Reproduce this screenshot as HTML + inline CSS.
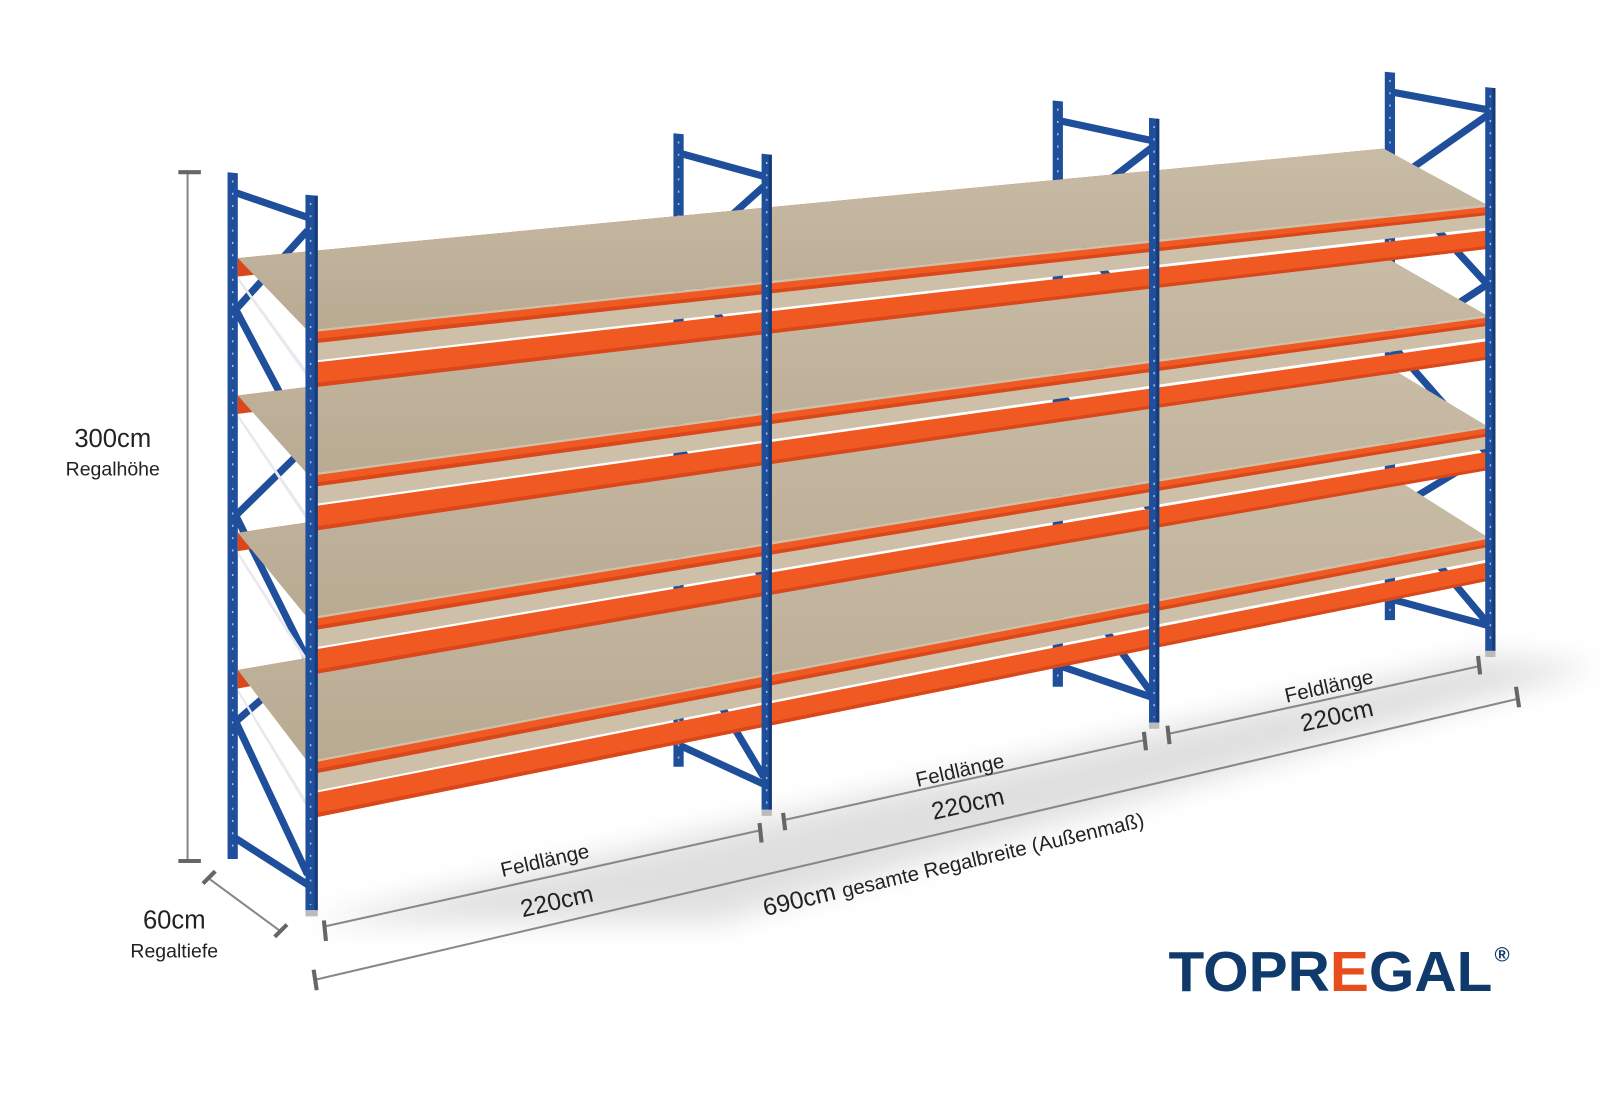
<!DOCTYPE html>
<html><head><meta charset="utf-8"><style>
html,body{margin:0;padding:0;background:#fff;width:1600px;height:1100px;overflow:hidden}
svg{display:block}
text{font-family:"Liberation Sans",sans-serif}
</style></head><body>
<svg id="s" width="1600" height="1100" viewBox="0 0 1600 1100" xmlns="http://www.w3.org/2000/svg">
<defs>
<filter id="blur" x="-20%" y="-50%" width="140%" height="200%"><feGaussianBlur stdDeviation="14"/></filter>
<linearGradient id="bd" x1="0" y1="0" x2="0" y2="1"><stop offset="0" stop-color="#c9bca6"/><stop offset="1" stop-color="#b9aa92"/></linearGradient>
</defs>
<g transform="scale(1.025)">
<polygon points="300,900 1451,640 1560,650 700,900" fill="#d8d8d8" filter="url(#blur)" opacity="0.8"/>
<g id="back"></g>
<g id="boards"></g>
<g id="front"></g>
<g stroke="#888" stroke-width="2" fill="none">
<line x1="183" y1="168" x2="183" y2="840"/>
<line x1="174" y1="168" x2="196" y2="168" stroke-width="4" stroke="#666"/>
<line x1="174" y1="840" x2="196" y2="840" stroke-width="4" stroke="#666"/>
<line x1="205" y1="858" x2="273" y2="908"/>
<line x1="198" y1="862" x2="210" y2="850" stroke-width="4" stroke="#666"/>
<line x1="268" y1="914" x2="280" y2="902" stroke-width="4" stroke="#666"/>
<line x1="316" y1="904" x2="742" y2="810"/>
<line x1="316" y1="898" x2="318" y2="918" stroke-width="4" stroke="#666"/>
<line x1="741" y1="803" x2="743" y2="822" stroke-width="4" stroke="#666"/>
<line x1="765" y1="800" x2="1117" y2="722"/>
<line x1="764" y1="793" x2="766" y2="810" stroke-width="4" stroke="#666"/>
<line x1="1116" y1="714" x2="1118" y2="732" stroke-width="4" stroke="#666"/>
<line x1="1140" y1="716" x2="1443" y2="650"/>
<line x1="1139" y1="708" x2="1141" y2="726" stroke-width="4" stroke="#666"/>
<line x1="1442" y1="640" x2="1444" y2="658" stroke-width="4" stroke="#666"/>
<line x1="307" y1="956" x2="1480" y2="682"/>
<line x1="306" y1="946" x2="309" y2="966" stroke-width="4" stroke="#666"/>
<line x1="1479" y1="670" x2="1482" y2="690" stroke-width="4" stroke="#666"/>
</g>
<g fill="#222">
<text x="110" y="436" font-size="25" text-anchor="middle">300cm</text>
<text x="110" y="464" font-size="19" text-anchor="middle">Regalhöhe</text>
<text x="170" y="906" font-size="25" text-anchor="middle">60cm</text>
<text x="170" y="934" font-size="19" text-anchor="middle">Regaltiefe</text>
<g transform="translate(533,846) rotate(-12.7)"><text font-size="20" text-anchor="middle">Feldlänge</text></g>
<g transform="translate(545,887) rotate(-12.7)"><text font-size="24" text-anchor="middle">220cm</text></g>
<g transform="translate(938,758) rotate(-12.7)"><text font-size="20" text-anchor="middle">Feldlänge</text></g>
<g transform="translate(946,792) rotate(-12.7)"><text font-size="24" text-anchor="middle">220cm</text></g>
<g transform="translate(1298,676) rotate(-12.7)"><text font-size="20" text-anchor="middle">Feldlänge</text></g>
<g transform="translate(1306,706) rotate(-12.7)"><text font-size="24" text-anchor="middle">220cm</text></g>
<g transform="translate(932,850) rotate(-13.3)"><text font-size="24" text-anchor="middle">690cm <tspan font-size="20">gesamte Regalbreite (Außenmaß)</tspan></text></g>
</g>
<text x="1140" y="967" font-size="55" font-weight="bold" fill="#0f3a6b" textLength="316" lengthAdjust="spacingAndGlyphs">TOPR<tspan fill="#e84e1b">E</tspan>GAL</text>
<text x="1458" y="938" font-size="20" font-weight="bold" fill="#0f3a6b">®</text>
</g>
</svg>
<script>
(function(){
var NS="http://www.w3.org/2000/svg";
function el(p,t,a){var e=document.createElementNS(NS,t);for(var k in a)e.setAttribute(k,a[k]);document.getElementById(p).appendChild(e);return e;}
function poly(p,pts,fill,extra){var a={points:pts.map(function(q){return q[0].toFixed(1)+","+q[1].toFixed(1)}).join(" "),fill:fill};for(var k in extra)a[k]=extra[k];return el(p,"polygon",a);}
var BLUE="#1f4e9a",BLUE2="#163b78",OR="#f05a22",OR2="#d9471a";
var fx=[300,745,1123,1451],ft=[190,150,115,85],fb=[888,790,705,635];
var bx=[222,657,1027,1351],bt=[168,130,98,70],bb=[838,748,670,605];
var yL=[322,462,602,742],yR=[200,308,416,524];
function fy(i,x){return yL[i]+(yR[i]-yL[i])*(x-305)/(1450-305);}
function by(i,x){var off=70+6*i+(x-230)/(1350-230)*(-15-3*i);return yL[i]-off+(yR[i]-yL[i])*(x-230)/(1350-230);}
for(var j=0;j<4;j++){
 poly("back",[[bx[j],bt[j]],[bx[j]+10,bt[j]+1],[bx[j]+10,bb[j]],[bx[j],bb[j]]],BLUE);
 el("back","line",{x1:bx[j]+5,y1:bt[j]+8,x2:bx[j]+5,y2:bb[j]-5,stroke:"#a9bbe0","stroke-width":1.5,"stroke-dasharray":"2 10"});
}
for(var j=0;j<4;j++){
 var s={stroke:BLUE,"stroke-width":7,"stroke-linecap":"butt"};
 el("back","line",Object.assign({x1:bx[j]+8,y1:bt[j]+20,x2:fx[j],y2:ft[j]+22},s));
 var n=6;
 for(var k=0;k<n;k++){
  var t0=0.05+k*0.9/n,t1=0.05+(k+1)*0.9/n;
  var yb0=bt[j]+(bb[j]-bt[j])*t0,yb1=bt[j]+(bb[j]-bt[j])*t1;
  var yf0=ft[j]+(fb[j]-ft[j])*t0,yf1=ft[j]+(fb[j]-ft[j])*t1;
  if(k%2==0) el("back","line",Object.assign({x1:fx[j],y1:yf0,x2:bx[j]+8,y2:yb1},s));
  else el("back","line",Object.assign({x1:bx[j]+8,y1:yb0,x2:fx[j],y2:yf1},s));
 }
 el("back","line",Object.assign({x1:bx[j]+8,y1:bb[j]-20,x2:fx[j],y2:fb[j]-25},s));
}
for(var i=0;i<4;i++){
 var xl=300,xr=1451;
 poly("boards",[[232,by(i,232)],[1350,by(i,1350)],[1350,by(i,1350)+12],[232,by(i,232)+18]],OR2);
 poly("boards",[[xl,fy(i,xl)],[xr,fy(i,xr)],[1350,by(i,1350)],[232,by(i,232)]],"url(#bd)");
 poly("boards",[[xl,fy(i,xl)],[xr,fy(i,xr)],[xr,fy(i,xr)+22],[xl,fy(i,xl)+30]],"#cdbfa8");
 poly("boards",[[232,by(i,232)+18],[300,fy(i,300)+40],[300,fy(i,300)+46],[232,by(i,232)+22]],"#e8e8ee");
}
for(var i=0;i<4;i++){
 var xl=303,xr=1451;
 var a=fy(i,xl),b=fy(i,xr);
 poly("front",[[xl,a+2],[xr,b+2],[xr,b+10],[xl,a+13]],OR);
 poly("front",[[xl,a+9],[xr,b+7],[xr,b+10],[xl,a+13]],OR2);
 poly("front",[[xl,a+32],[xr,b+25],[xr,b+43],[xl,a+56]],OR);
 poly("front",[[xl,a+52],[xr,b+40],[xr,b+43],[xl,a+56]],OR2);
}
for(var j=0;j<4;j++){
 var w=j==0?12:10;
 poly("front",[[fx[j]-2,ft[j]],[fx[j]+w-2,ft[j]+1],[fx[j]+w-2,fb[j]],[fx[j]-2,fb[j]]],BLUE);
 poly("front",[[fx[j]+w-5,ft[j]+1],[fx[j]+w-2,ft[j]+1],[fx[j]+w-2,fb[j]],[fx[j]+w-5,fb[j]]],BLUE2);
 el("front","line",{x1:fx[j]+3,y1:ft[j]+8,x2:fx[j]+3,y2:fb[j]-5,stroke:"#a9bbe0","stroke-width":1.5,"stroke-dasharray":"2 10"});
 el("front","rect",{x:fx[j]-2,y:fb[j],width:w,height:6,fill:"#bbb"});
}
})();
</script>
</body></html>
